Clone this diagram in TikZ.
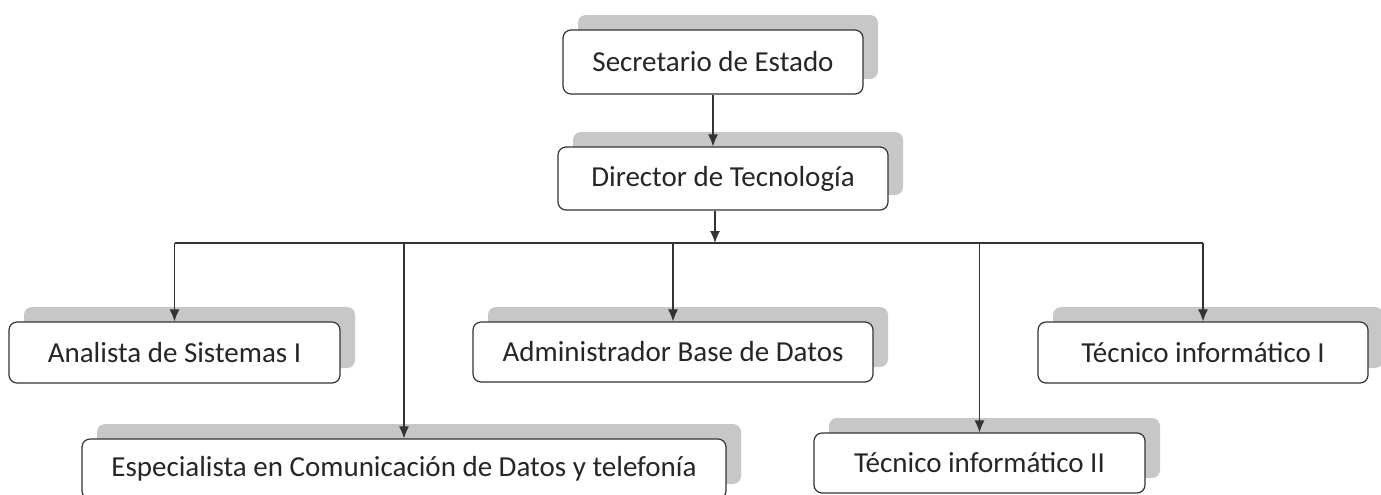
\documentclass[tikz,border=0pt]{standalone}
\usepackage{fontspec}
\setmainfont{Carlito}
\usetikzlibrary{arrows.meta,shadows}

\begin{document}
\begin{tikzpicture}[x=0.5pt,y=-0.5pt,
    puesto/.style={draw=black!80, line width=0.6pt, rounded corners=4pt, fill=white,
        text=black!85, font=\fontsize{14.5}{17}\selectfont, inner sep=0pt,
        copy shadow={shadow xshift=7.5pt, shadow yshift=7.5pt, fill=black!22, draw=none}},
    linea/.style={draw=black!80, line width=0.6pt},
    flecha/.style={linea, -{Latex[length=6pt,width=5pt]}}]
    \useasboundingbox (0,0) rectangle (1381,494);

    \node[puesto, minimum width=150pt, minimum height=32pt] (P1) at (713,62) {Secretario de Estado};
    \node[puesto, minimum width=165pt, minimum height=31.5pt] (P2) at (723,178.5) {Director de Tecnología};

    \node[puesto, minimum width=165.5pt, minimum height=30.5pt] (P3) at (174.5,352.5) {Analista de Sistemas I};
    \node[puesto, minimum width=200pt, minimum height=30pt] (P4) at (673,352) {Administrador Base de Datos};
    \node[puesto, minimum width=165pt, minimum height=30.5pt] (P5) at (1203,352.5) {Técnico informático I};

    \node[puesto, minimum width=322pt, minimum height=30pt] (P6) at (404,469) {Especialista en Comunicación de Datos y telefonía};
    \node[puesto, minimum width=165.5pt, minimum height=30pt] (P7) at (979.5,463) {Técnico informático II};

    \coordinate (B) at (715,243);

    \draw[flecha] (P1.south) -- (P1.south |- P2.north);
    \draw[flecha] (B |- P2.south) -- (B);

    \draw[linea] (P3.north |- B) -- (P5.north |- B);

    \draw[flecha] (P3.north |- B) -- (P3.north);
    \draw[flecha] (P6.north |- B) -- (P6.north);
    \draw[flecha] (P4.north |- B) -- (P4.north);
    \draw[flecha] (P7.north |- B) -- (P7.north);
    \draw[flecha] (P5.north |- B) -- (P5.north);

\end{tikzpicture}
\end{document}
